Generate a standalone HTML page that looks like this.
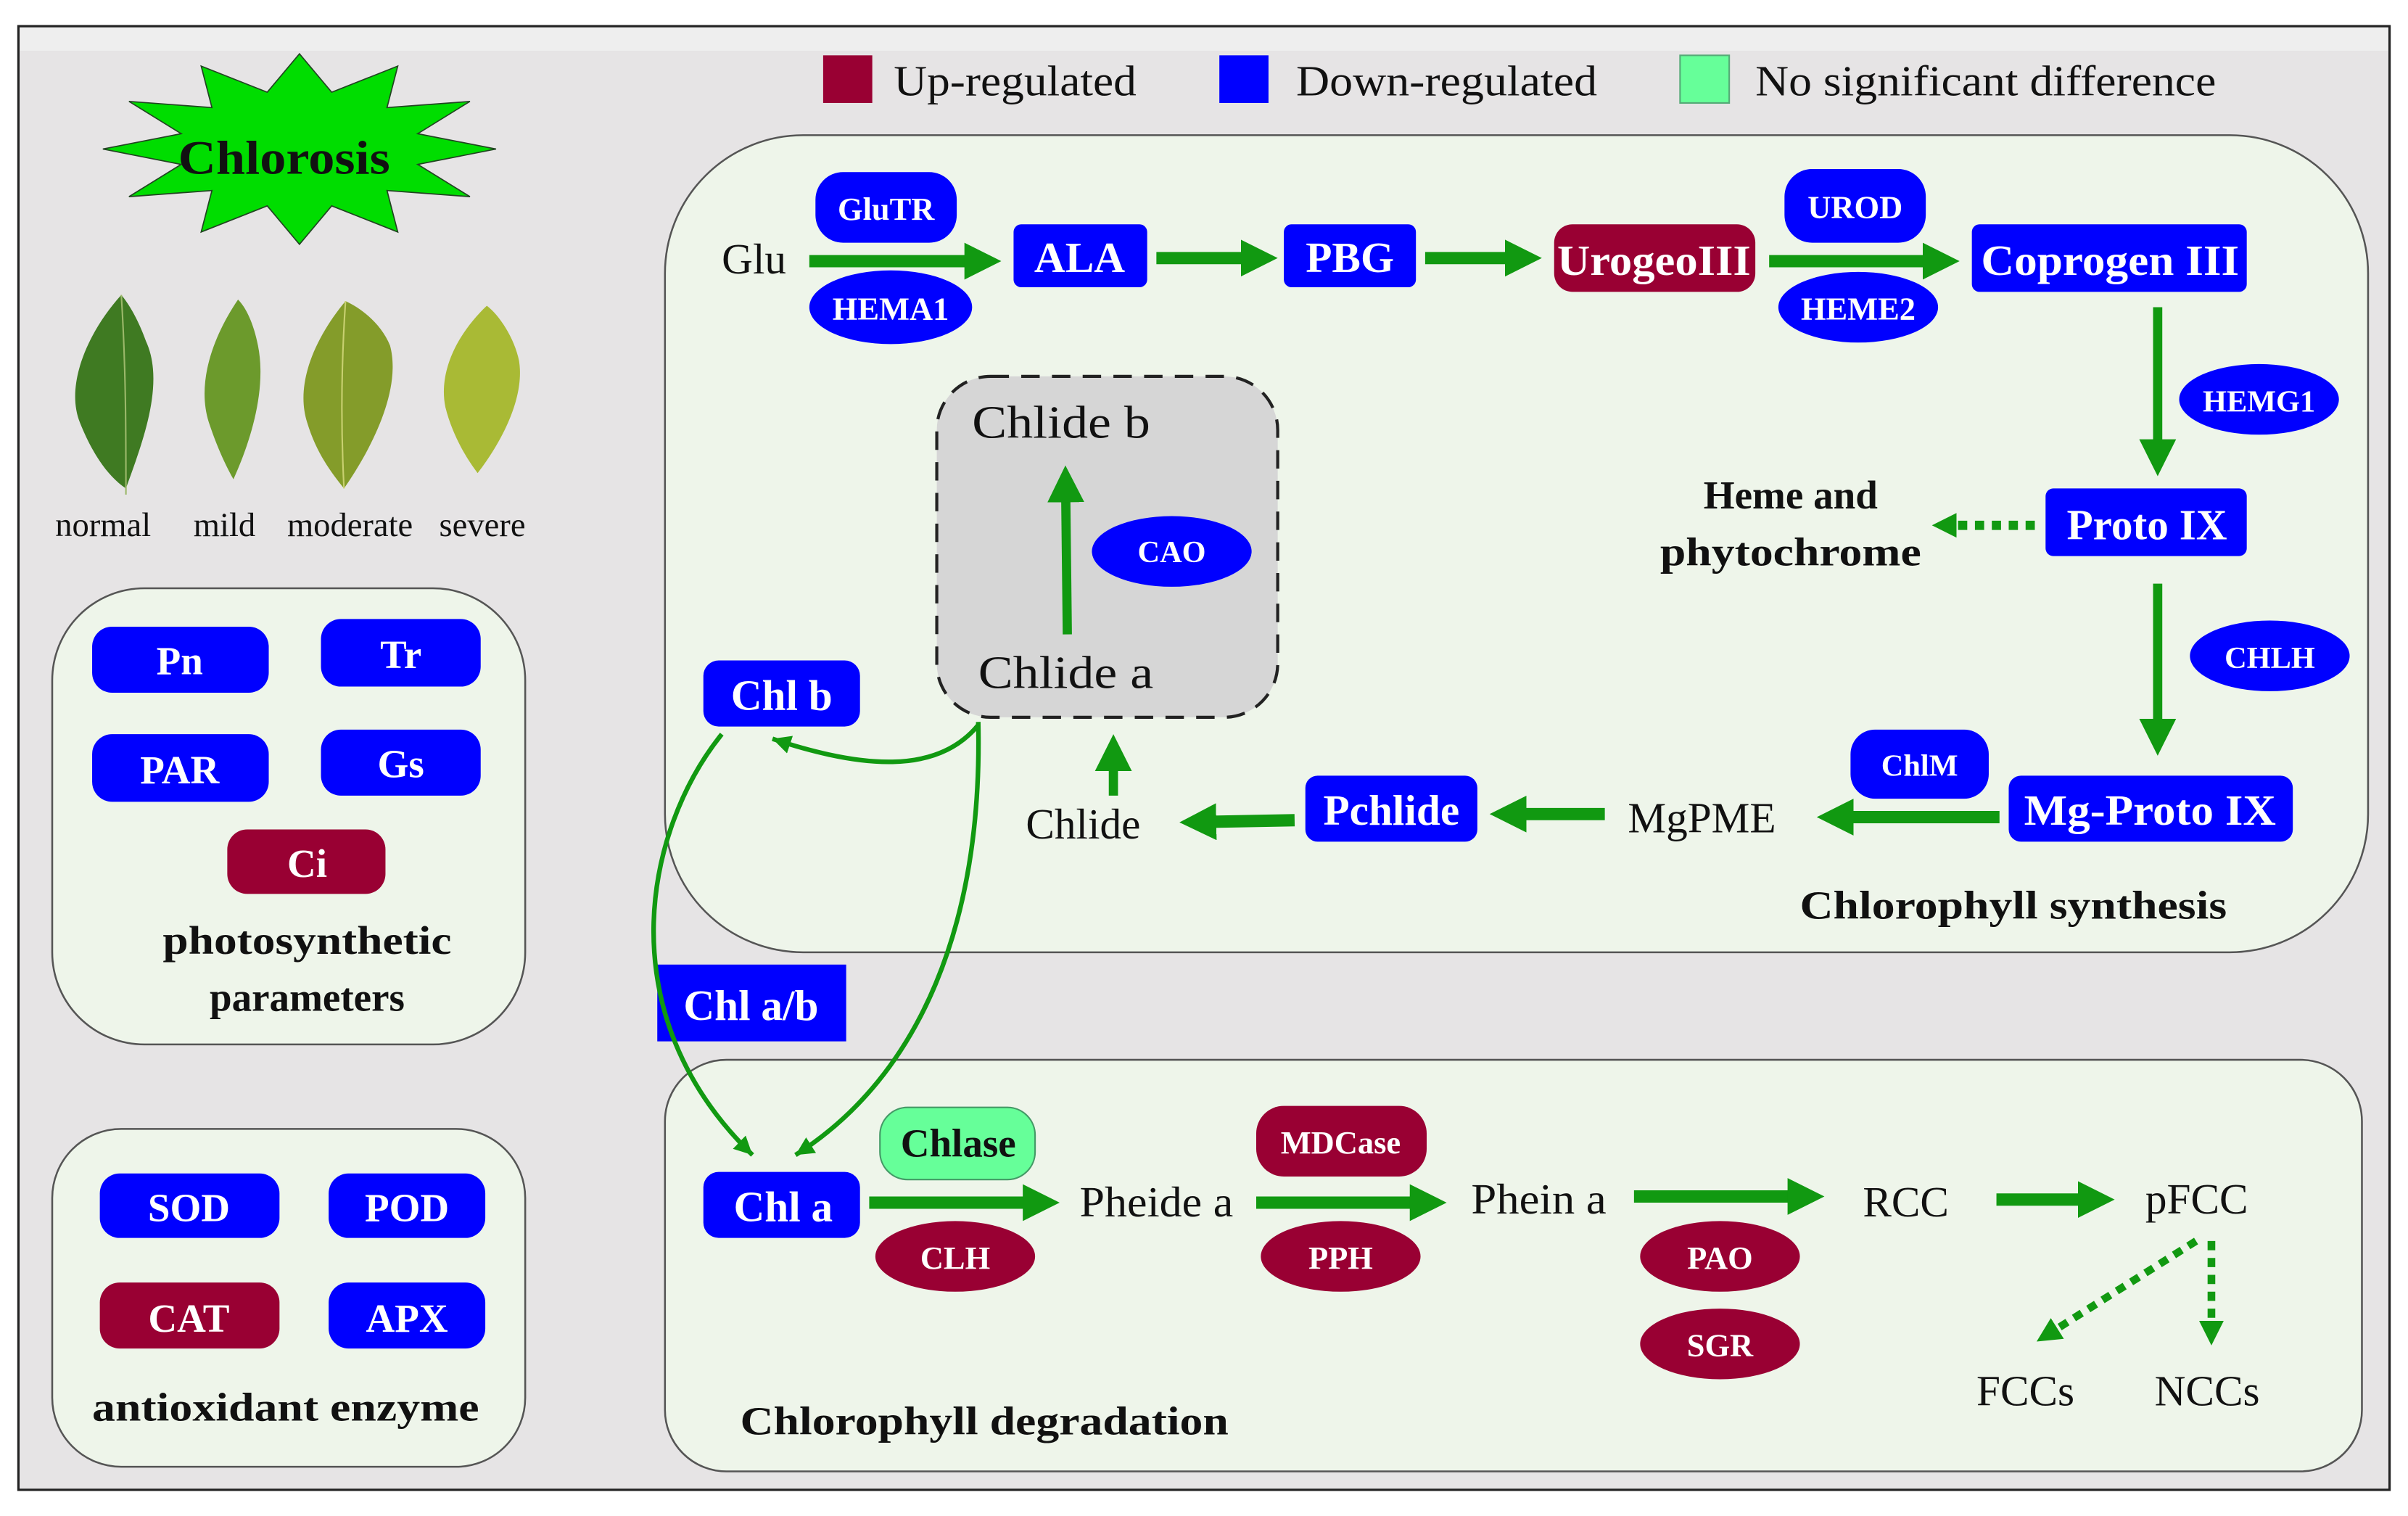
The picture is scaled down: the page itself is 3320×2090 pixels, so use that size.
<!DOCTYPE html>
<html><head><meta charset="utf-8"><style>
html,body{margin:0;padding:0;background:#fff;}
svg{display:block;}
text{font-family:"Liberation Serif",serif;}
.w{fill:#fff;font-weight:bold;text-anchor:middle;}
.k{fill:#111;}
.b{fill:#111;font-weight:bold;}
</style></head><body>
<svg width="3320" height="2090" viewBox="0 0 1568 987" xmlns="http://www.w3.org/2000/svg">
<defs>
<marker id="ah" markerUnits="userSpaceOnUse" markerWidth="30" markerHeight="30" refX="2" refY="12" orient="auto">
<path d="M0,0 L24,12 L0,24 Z" fill="#119911"/></marker>
<marker id="as" markerUnits="userSpaceOnUse" markerWidth="16" markerHeight="16" refX="12" refY="6" orient="auto">
<path d="M0,0 L12,6 L0,12 Z" fill="#119911"/></marker>
<marker id="ad" markerUnits="userSpaceOnUse" markerWidth="20" markerHeight="20" refX="2" refY="8" orient="auto">
<path d="M0,0 L16,8 L0,16 Z" fill="#119911"/></marker>
</defs>
<rect x="0" y="0" width="1568" height="987" fill="#fff"/>
<rect x="12" y="17" width="1544" height="953" fill="#e6e4e5" stroke="#222" stroke-width="1.5"/>
<rect x="13" y="18" width="1542" height="15" fill="#eeeeee"/>

<!-- legend -->
<rect x="536" y="36" width="32" height="31" fill="#990033"/>
<text x="582" y="62" class="k" font-size="28" textLength="158" lengthAdjust="spacingAndGlyphs">Up-regulated</text>
<rect x="794" y="36" width="32" height="31" fill="#0000ff"/>
<text x="844" y="62" class="k" font-size="28" textLength="196" lengthAdjust="spacingAndGlyphs">Down-regulated</text>
<rect x="1094" y="36" width="32" height="31" fill="#66ff99" stroke="#55aa77"/>
<text x="1143" y="62" class="k" font-size="28" textLength="300" lengthAdjust="spacingAndGlyphs">No significant difference</text>

<!-- panels -->
<rect x="433" y="88" width="1109" height="532" rx="90" fill="#eef5ea" stroke="#555" stroke-width="1.2"/>
<rect x="433" y="690" width="1105" height="268" rx="40" fill="#eef5ea" stroke="#555" stroke-width="1.2"/>
<rect x="34" y="383" width="308" height="297" rx="60" fill="#eef5ea" stroke="#555" stroke-width="1.2"/>
<rect x="34" y="735" width="308" height="220" rx="45" fill="#eef5ea" stroke="#555" stroke-width="1.2"/>

<!-- chlorosis star -->
<polygon points="323,97 272,107 306,128 252,124 259,151 216,134 195,159 174,134 131,151 138,124 84,128 118,107 67,97 118,87 84,66 138,70 131,43 174,60 195,35 216,60 259,43 252,70 306,66 272,87" fill="#00dd00" stroke="#224422" stroke-width="0.8"/>
<text x="185" y="113" class="b" font-size="31" text-anchor="middle" textLength="138" lengthAdjust="spacingAndGlyphs">Chlorosis</text>

<!-- leaves -->
<path d="M79,192 C58,215 42,250 52,275 C60,295 70,310 82,318 C92,290 108,250 95,222 C90,208 84,198 79,192Z" fill="#3f7a22"/>
<path d="M79,192 C82,240 82,280 82,322" stroke="#9bb86a" stroke-width="1" fill="none"/>
<path d="M155,195 C138,220 128,250 136,275 C142,293 148,305 152,312 C162,290 174,255 168,225 C165,210 160,200 155,195Z" fill="#6c9a2c"/>
<path d="M225,196 C205,220 192,250 200,275 C206,295 216,308 224,318 C240,295 262,255 254,225 C248,210 234,200 225,196Z" fill="#849c2a"/>
<path d="M225,196 C222,240 222,280 224,318" stroke="#c8d070" stroke-width="1" fill="none"/>
<path d="M317,199 C300,215 285,240 290,265 C295,285 305,300 311,308 C325,290 342,260 338,235 C335,220 325,205 317,199Z" fill="#a9ba35"/>
<text x="36" y="349" class="k" font-size="22">normal</text>
<text x="126" y="349" class="k" font-size="22">mild</text>
<text x="187" y="349" class="k" font-size="22">moderate</text>
<text x="286" y="349" class="k" font-size="22">severe</text>

<!-- left boxes -->
<g font-size="26">
<rect x="60" y="408" width="115" height="43" rx="13" fill="#0000ff"/><text x="117" y="439" class="w">Pn</text>
<rect x="209" y="403" width="104" height="44" rx="13" fill="#0000ff"/><text x="261" y="435" class="w">Tr</text>
<rect x="60" y="478" width="115" height="44" rx="13" fill="#0000ff"/><text x="117" y="510" class="w">PAR</text>
<rect x="209" y="475" width="104" height="43" rx="13" fill="#0000ff"/><text x="261" y="506" class="w">Gs</text>
<rect x="148" y="540" width="103" height="42" rx="13" fill="#990033"/><text x="200" y="571" class="w">Ci</text>
<rect x="65" y="764" width="117" height="42" rx="13" fill="#0000ff"/><text x="123" y="795" class="w">SOD</text>
<rect x="214" y="764" width="102" height="42" rx="13" fill="#0000ff"/><text x="265" y="795" class="w">POD</text>
<rect x="65" y="835" width="117" height="43" rx="13" fill="#990033"/><text x="123" y="867" class="w">CAT</text>
<rect x="214" y="835" width="102" height="43" rx="13" fill="#0000ff"/><text x="265" y="867" class="w">APX</text>
</g>
<text x="200" y="621" class="b" font-size="26" text-anchor="middle" textLength="188" lengthAdjust="spacingAndGlyphs">photosynthetic</text>
<text x="200" y="658" class="b" font-size="26" text-anchor="middle">parameters</text>
<text x="186" y="925" class="b" font-size="26" text-anchor="middle" textLength="252" lengthAdjust="spacingAndGlyphs">antioxidant enzyme</text>

<!-- dashed box -->
<rect x="610" y="245" width="222" height="222" rx="35" fill="#d6d6d6" stroke="#222" stroke-width="2" stroke-dasharray="12,8"/>
<text x="633" y="285" class="k" font-size="30" textLength="116" lengthAdjust="spacingAndGlyphs">Chlide b</text>
<text x="637" y="448" class="k" font-size="30" textLength="114" lengthAdjust="spacingAndGlyphs">Chlide a</text>
<line x1="695" y1="413" x2="694" y2="325" stroke="#119911" stroke-width="6" marker-end="url(#ah)"/>
<ellipse cx="763" cy="359" rx="52" ry="23" fill="#0000ff"/><text x="763" y="366" class="w" font-size="20">CAO</text>

<!-- synthesis arrows -->
<g stroke="#119911" stroke-width="8" fill="none">
<line x1="527" y1="170" x2="630" y2="170" marker-end="url(#ah)"/>
<line x1="753" y1="168" x2="810" y2="168" marker-end="url(#ah)"/>
<line x1="928" y1="168" x2="982" y2="168" marker-end="url(#ah)"/>
<line x1="1152" y1="170" x2="1254" y2="170" marker-end="url(#ah)"/>
<line x1="1405" y1="200" x2="1405" y2="288" marker-end="url(#ah)" stroke-width="6"/>
<line x1="1405" y1="380" x2="1405" y2="470" marker-end="url(#ah)" stroke-width="6"/>
<line x1="1302" y1="532" x2="1205" y2="532" marker-end="url(#ah)"/>
<line x1="1045" y1="530" x2="992" y2="530" marker-end="url(#ah)"/>
<line x1="843" y1="534" x2="790" y2="535" marker-end="url(#ah)"/>
<line x1="725" y1="518" x2="725" y2="500" marker-end="url(#ah)" stroke-width="6"/>
<line x1="1325" y1="342" x2="1272" y2="342" stroke-dasharray="6,5" stroke-width="6" marker-end="url(#ad)"/>
</g>
<text x="470" y="178" class="k" font-size="28">Glu</text>
<rect x="531" y="112" width="92" height="46" rx="18" fill="#0000ff"/><text x="577" y="143" class="w" font-size="21">GluTR</text>
<ellipse cx="580" cy="200" rx="53" ry="24" fill="#0000ff"/><text x="580" y="208" class="w" font-size="21">HEMA1</text>
<rect x="660" y="146" width="87" height="41" rx="5" fill="#0000ff"/><text x="703" y="177" class="w" font-size="28">ALA</text>
<rect x="836" y="146" width="86" height="41" rx="5" fill="#0000ff"/><text x="879" y="177" class="w" font-size="28">PBG</text>
<rect x="1012" y="146" width="131" height="44" rx="12" fill="#990033"/><text x="1077" y="179" class="w" font-size="28" textLength="126" lengthAdjust="spacingAndGlyphs">UrogeoIII</text>
<rect x="1162" y="110" width="92" height="48" rx="18" fill="#0000ff"/><text x="1208" y="142" class="w" font-size="21">UROD</text>
<ellipse cx="1210" cy="200" rx="52" ry="23" fill="#0000ff"/><text x="1210" y="208" class="w" font-size="21">HEME2</text>
<rect x="1284" y="146" width="179" height="44" rx="5" fill="#0000ff"/><text x="1374" y="179" class="w" font-size="28" textLength="168" lengthAdjust="spacingAndGlyphs">Coprogen III</text>
<ellipse cx="1471" cy="260" rx="52" ry="23" fill="#0000ff"/><text x="1471" y="268" class="w" font-size="20">HEMG1</text>
<rect x="1332" y="318" width="131" height="44" rx="5" fill="#0000ff"/><text x="1398" y="351" class="w" font-size="28">Proto IX</text>
<text x="1166" y="331" class="b" font-size="26" text-anchor="middle">Heme and</text>
<text x="1166" y="368" class="b" font-size="26" text-anchor="middle" textLength="170" lengthAdjust="spacingAndGlyphs">phytochrome</text>
<ellipse cx="1478" cy="427" rx="52" ry="23" fill="#0000ff"/><text x="1478" y="435" class="w" font-size="20">CHLH</text>
<rect x="1205" y="475" width="90" height="45" rx="16" fill="#0000ff"/><text x="1250" y="505" class="w" font-size="20">ChlM</text>
<rect x="1308" y="505" width="185" height="43" rx="8" fill="#0000ff"/><text x="1400" y="537" class="w" font-size="28" textLength="164" lengthAdjust="spacingAndGlyphs">Mg-Proto IX</text>
<text x="1060" y="542" class="k" font-size="28">MgPME</text>
<rect x="850" y="505" width="112" height="43" rx="8" fill="#0000ff"/><text x="906" y="537" class="w" font-size="28">Pchlide</text>
<text x="668" y="546" class="k" font-size="28">Chlide</text>
<rect x="458" y="430" width="102" height="43" rx="10" fill="#0000ff"/><text x="509" y="462" class="w" font-size="28">Chl b</text>
<text x="1172" y="598" class="b" font-size="26" textLength="278" lengthAdjust="spacingAndGlyphs">Chlorophyll synthesis</text>

<rect x="428" y="628" width="123" height="50" fill="#0000ff"/><text x="489" y="664" class="w" font-size="28">Chl a/b</text>

<!-- curves -->
<g stroke="#119911" stroke-width="3" fill="none">
<path d="M470,478 C420,540 395,660 490,752" marker-end="url(#as)"/>
<path d="M637,470 C640,600 600,700 518,752" marker-end="url(#as)"/>
<path d="M637,472 C610,505 560,500 503,481" marker-end="url(#as)"/>
</g>

<!-- degradation -->
<g stroke="#119911" stroke-width="8" fill="none">
<line x1="566" y1="783" x2="668" y2="783" marker-end="url(#ah)"/>
<line x1="818" y1="783" x2="920" y2="783" marker-end="url(#ah)"/>
<line x1="1064" y1="779" x2="1166" y2="779" marker-end="url(#ah)"/>
<line x1="1300" y1="781" x2="1355" y2="781" marker-end="url(#ah)"/>
<line x1="1430" y1="808" x2="1338" y2="866" stroke-width="5" stroke-dasharray="6,5" marker-end="url(#ad)"/>
<line x1="1440" y1="808" x2="1440" y2="862" stroke-width="5" stroke-dasharray="6,5" marker-end="url(#ad)"/>
</g>
<rect x="458" y="763" width="102" height="43" rx="10" fill="#0000ff"/><text x="510" y="795" class="w" font-size="28">Chl a</text>
<rect x="573" y="721" width="101" height="47" rx="18" fill="#66ff99" stroke="#449966"/><text x="624" y="753" class="b" font-size="26" text-anchor="middle">Chlase</text>
<ellipse cx="622" cy="818" rx="52" ry="23" fill="#990033"/><text x="622" y="826" class="w" font-size="21">CLH</text>
<text x="703" y="792" class="k" font-size="28" textLength="100" lengthAdjust="spacingAndGlyphs">Pheide a</text>
<rect x="818" y="720" width="111" height="46" rx="18" fill="#990033"/><text x="873" y="751" class="w" font-size="21">MDCase</text>
<ellipse cx="873" cy="818" rx="52" ry="23" fill="#990033"/><text x="873" y="826" class="w" font-size="21">PPH</text>
<text x="958" y="790" class="k" font-size="28" textLength="88" lengthAdjust="spacingAndGlyphs">Phein a</text>
<text x="1213" y="792" class="k" font-size="28">RCC</text>
<ellipse cx="1120" cy="818" rx="52" ry="23" fill="#990033"/><text x="1120" y="826" class="w" font-size="21">PAO</text>
<ellipse cx="1120" cy="875" rx="52" ry="23" fill="#990033"/><text x="1120" y="883" class="w" font-size="21">SGR</text>
<text x="1397" y="790" class="k" font-size="28">pFCC</text>
<text x="1287" y="915" class="k" font-size="28">FCCs</text>
<text x="1403" y="915" class="k" font-size="28">NCCs</text>
<text x="482" y="934" class="b" font-size="26" textLength="318" lengthAdjust="spacingAndGlyphs">Chlorophyll degradation</text>
</svg>
</body></html>
